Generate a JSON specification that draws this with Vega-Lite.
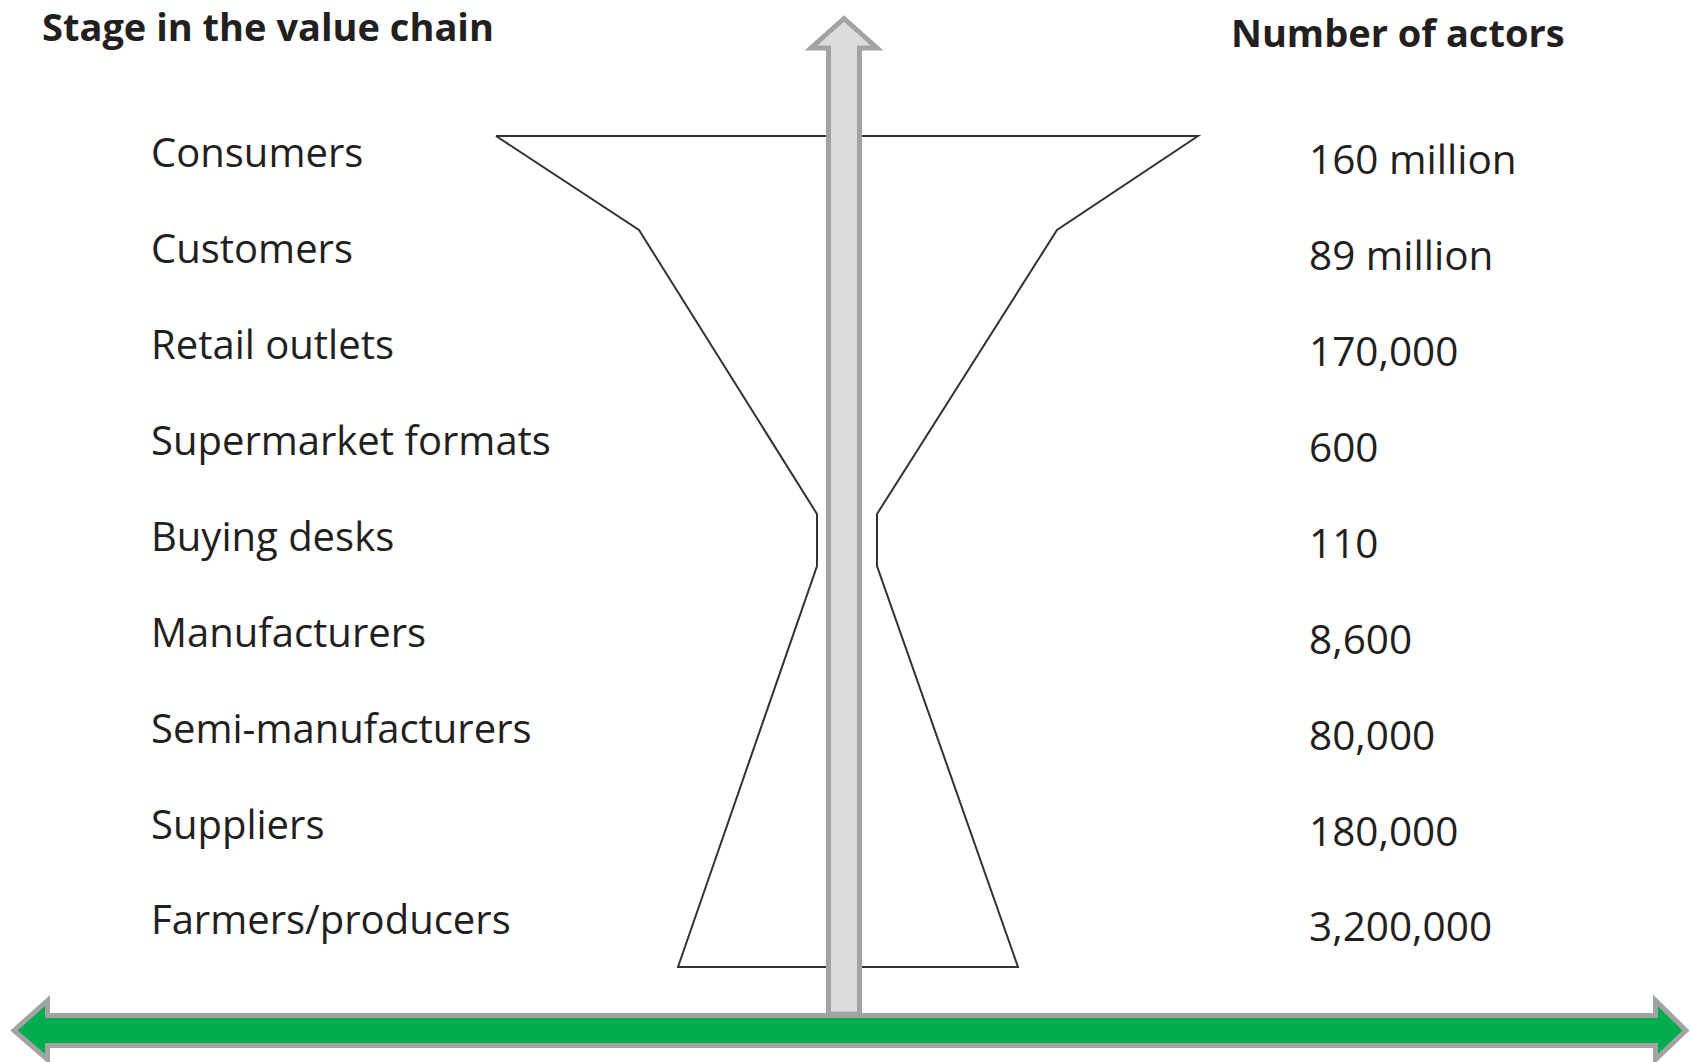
{
  "$schema": "https://vega.github.io/schema/vega-lite/v6.json",
  "width": 1692,
  "height": 1062,
  "padding": 0,
  "autosize": {"type": "none"},
  "background": "white",
  "config": {"view": {"stroke": null}, "axis": {"disable": true}, "legend": {"disable": true}},
  "datasets": {
    "funnel": [
      {"o": 1, "x": 496, "y": 136},
      {"o": 2, "x": 639, "y": 230},
      {"o": 3, "x": 817, "y": 514},
      {"o": 4, "x": 817, "y": 566},
      {"o": 5, "x": 678, "y": 967},
      {"o": 6, "x": 1018, "y": 967},
      {"o": 7, "x": 877, "y": 566},
      {"o": 8, "x": 877, "y": 514},
      {"o": 9, "x": 1057, "y": 230},
      {"o": 10, "x": 1198, "y": 136},
      {"o": 11, "x": 496, "y": 136}
    ],
    "varrow": [
      {"y": 18.5, "xa": 844, "xb": 844},
      {"y": 48, "xa": 811, "xb": 877},
      {"y": 48.01, "xa": 828.5, "xb": 859.5},
      {"y": 1014, "xa": 828.5, "xb": 859.5}
    ],
    "harrow": [
      {"x": 14, "ya": 1030.5, "yb": 1030.5},
      {"x": 47.5, "ya": 1000.5, "yb": 1059.5},
      {"x": 47.51, "ya": 1015.5, "yb": 1045.5},
      {"x": 1655.5, "ya": 1015.5, "yb": 1045.5},
      {"x": 1655.51, "ya": 1000.5, "yb": 1059.5},
      {"x": 1686, "ya": 1030.5, "yb": 1030.5}
    ],
    "stages": [
      {"stage": "Consumers", "actors": "160 million", "y": 155},
      {"stage": "Customers", "actors": "89 million", "y": 251},
      {"stage": "Retail outlets", "actors": "170,000", "y": 347},
      {"stage": "Supermarket formats", "actors": "600", "y": 443},
      {"stage": "Buying desks", "actors": "110", "y": 539},
      {"stage": "Manufacturers", "actors": "8,600", "y": 635},
      {"stage": "Semi-manufacturers", "actors": "80,000", "y": 731},
      {"stage": "Suppliers", "actors": "180,000", "y": 827},
      {"stage": "Farmers/producers", "actors": "3,200,000", "y": 922}
    ],
    "titles": [
      {"title": "Stage in the value chain", "x": 42, "y": 41},
      {"title": "Number of actors", "x": 1231, "y": 47}
    ]
  },
  "layer": [
    {
      "data": {"name": "funnel"},
      "mark": {"type": "line", "stroke": "#333333", "strokeWidth": 2, "strokeJoin": "miter"},
      "encoding": {
        "x": {"field": "x", "type": "quantitative", "scale": {"domain": [0, 1692], "nice": false, "zero": false}},
        "y": {"field": "y", "type": "quantitative", "scale": {"domain": [0, 1062], "nice": false, "zero": false, "reverse": true}},
        "order": {"field": "o", "type": "quantitative"}
      }
    },
    {
      "data": {"name": "varrow"},
      "mark": {"type": "area", "orient": "horizontal", "fill": "#dcdcdc", "stroke": "#a3a3a3", "strokeWidth": 5, "strokeJoin": "miter", "fillOpacity": 1},
      "encoding": {
        "y": {"field": "y", "type": "quantitative"},
        "x": {"field": "xa", "type": "quantitative"},
        "x2": {"field": "xb"}
      }
    },
    {
      "data": {"name": "harrow"},
      "mark": {"type": "area", "orient": "vertical", "fill": "#00ad4e", "stroke": "#a3a3a3", "strokeWidth": 5, "strokeJoin": "miter", "fillOpacity": 1},
      "encoding": {
        "x": {"field": "x", "type": "quantitative"},
        "y": {"field": "ya", "type": "quantitative"},
        "y2": {"field": "yb"}
      }
    },
    {
      "data": {"name": "stages"},
      "mark": {"type": "text", "align": "left", "baseline": "middle", "font": "Open Sans", "fontSize": 40, "fill": "#231f20"},
      "encoding": {
        "x": {"datum": 151, "type": "quantitative"},
        "y": {"field": "y", "type": "quantitative"},
        "text": {"field": "stage"}
      }
    },
    {
      "data": {"name": "stages"},
      "mark": {"type": "text", "align": "left", "baseline": "middle", "font": "Open Sans", "fontSize": 40.5, "fill": "#231f20", "dy": 7},
      "encoding": {
        "x": {"datum": 1309, "type": "quantitative"},
        "y": {"field": "y", "type": "quantitative"},
        "text": {"field": "actors"}
      }
    },
    {
      "data": {"name": "titles"},
      "mark": {"type": "text", "align": "left", "baseline": "alphabetic", "font": "Open Sans", "fontSize": 38, "fontWeight": "bold", "fill": "#231f20"},
      "encoding": {
        "x": {"field": "x", "type": "quantitative"},
        "y": {"field": "y", "type": "quantitative"},
        "text": {"field": "title"}
      }
    }
  ]
}
